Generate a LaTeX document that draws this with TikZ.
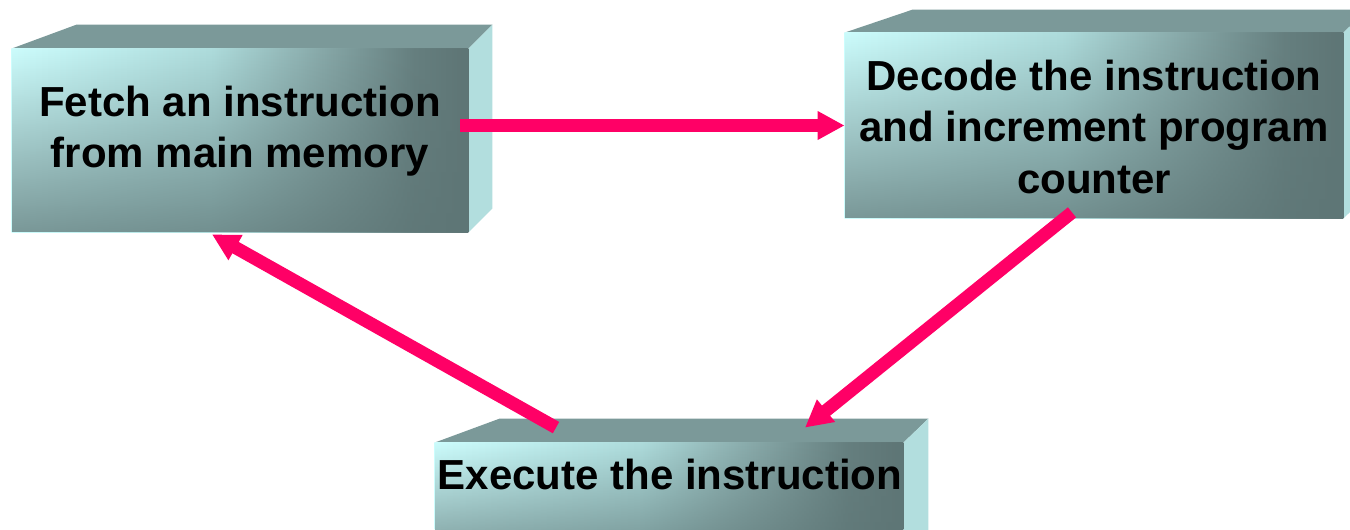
\documentclass[tikz,border=0pt]{standalone}
\usepackage{fontspec}
\setmainfont{Liberation Sans}
\usetikzlibrary{arrows.meta,fadings,calc}
\definecolor{pinkarrow}{HTML}{FF0066}
\definecolor{topc}{HTML}{7B9999}
\definecolor{sidec}{HTML}{B2DEDE}
\definecolor{darkc}{HTML}{5E7676}
\pgfdeclarehorizontalshading{frontsh}{100bp}{rgb(0bp)=(0.80,0.99,0.99); rgb(25bp)=(0.80,0.99,0.99); rgb(47bp)=(0.68,0.86,0.86); rgb(59bp)=(0.53,0.66,0.66); rgb(69bp)=(0.40,0.50,0.50); rgb(75bp)=(0.37,0.46,0.46); rgb(100bp)=(0.37,0.46,0.46)}
\tikzfading[name=botdark, top color=transparent!100, middle color=transparent!92, bottom color=transparent!25]
\begin{document}
\begin{tikzpicture}[x=0.5pt,y=-0.5pt,
  front/.style={rectangle, inner sep=0pt, draw=none},
  topface/.style={fill=topc},
  sideface/.style={fill=sidec},
  lbl/.style={font=\bfseries\fontsize{21}{25.5}\selectfont, align=center, text=black, inner sep=0pt},
  flow/.style={draw=pinkarrow, line width=6.5pt, -{Triangle[length=13.5pt,width=13.5pt,fill=pinkarrow]}}]
\clip (0,0) rectangle (1350,530);
\fill[white] (0,0) rectangle (1350,530);
% Fetch box
\node[front, minimum width=228pt, minimum height=91.5pt] (fetch) at (240,140.5) {};
\fill[topface] (fetch.north west) -- ++(65,-24) -- ($(fetch.north east)+(24,-24)$) -- (fetch.north east) -- cycle;
\fill[sideface] (fetch.north east) -- ++(24,-24) -- ($(fetch.south east)+(24,-24)$) -- (fetch.south east) -- cycle;
\shade[shading=frontsh] (fetch.north west) rectangle (fetch.south east);
\fill[darkc, path fading=botdark] (fetch.north west) rectangle (fetch.south east);
\node[lbl] (fetchtxt) at ($(fetch.center)+(0,-9.5)$) {Fetch an instruction\\from main memory};
% Decode box
\node[front, minimum width=249pt, minimum height=92.5pt] (decode) at (1094,125.5) {};
\fill[topface] (decode.north west) -- ++(68,-23) -- ($(decode.north east)+(24,-23)$) -- (decode.north east) -- cycle;
\fill[sideface] (decode.north east) -- ++(24,-23) -- ($(decode.south east)+(24,-23)$) -- (decode.south east) -- cycle;
\shade[shading=frontsh] (decode.north west) rectangle (decode.south east);
\fill[darkc, path fading=botdark] (decode.north west) rectangle (decode.south east);
\node[lbl, font=\bfseries\fontsize{21}{25.75}\selectfont] (decodetxt) at ($(decode.center)+(0,1)$) {Decode the instruction\\and increment program\\counter};
% Execute box
\node[front, minimum width=234pt, minimum height=58.5pt] (execute) at (669,501.5) {};
\fill[topface] (execute.north west) -- ++(65,-24) -- ($(execute.north east)+(25,-24)$) -- (execute.north east) -- cycle;
\fill[sideface] (execute.north east) -- ++(25,-24) -- ($(execute.south east)+(25,-24)$) -- (execute.south east) -- cycle;
\shade[shading=frontsh] (execute.north west) rectangle (execute.south east);
\fill[darkc, path fading=botdark] (execute.north west) rectangle (execute.south east);
\node[lbl] (executetxt) at ($(execute.north)+(1,31.7)$) {Execute the instruction};
% Arrows
\draw[flow] ($(fetch.east)+(-8,-15)$) -- (decode.west);
\draw[flow] ($(decode.south)+(-22,-6)$) -- ($(execute.north)+(136,-15)$);
\draw[flow] ($(execute.north)+(-113,-15)$) -- ($(fetch.south)+(-28,2)$);
\end{tikzpicture}
\end{document}
